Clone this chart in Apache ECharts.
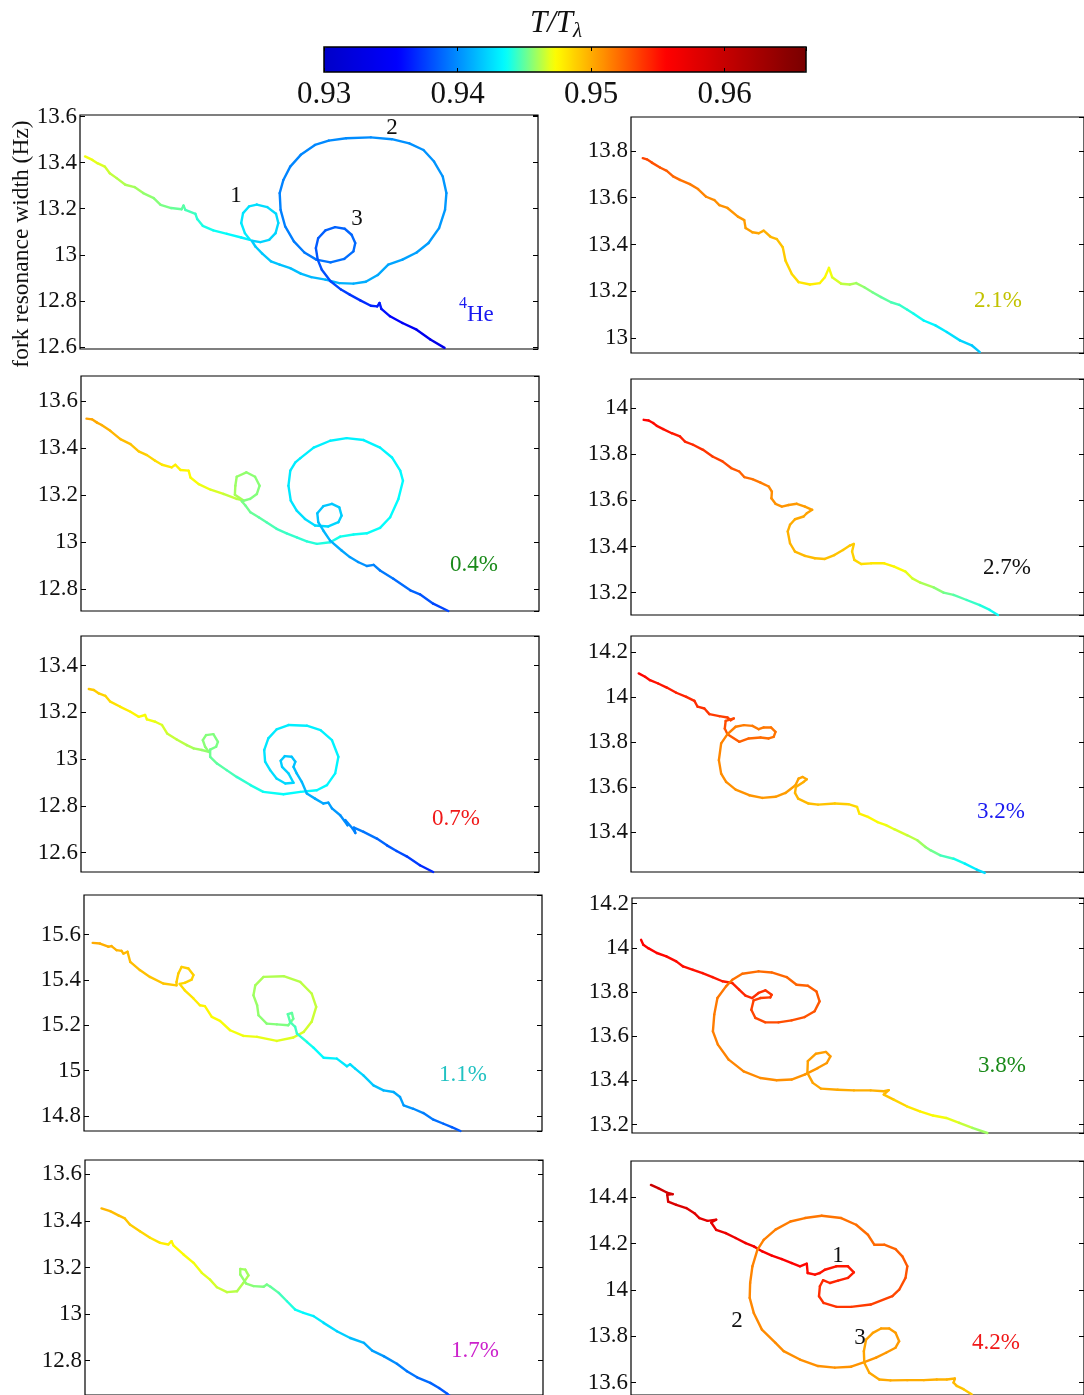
<!DOCTYPE html>
<html>
<head>
<meta charset="utf-8">
<script src="https://cdn.jsdelivr.net/npm/echarts/dist/echarts.min.js"></script>
<style>
  html, body { margin: 0; padding: 0; background: #fff; }
  #chart { width: 1084px; height: 1395px; }
</style>
</head>
<body>
<div id="chart"></div>
<script>
// Fork resonance width trajectories, coloured by reduced temperature T/Tλ.
// Each point: [x (arbitrary sweep coordinate, 0..100), width in Hz, T/Tλ]

const pathHe4 = [
  [1.1,13.427,.9472],[2.7,13.412,.9470],[3.8,13.398,.9469],[5.4,13.383,.9467],[6.5,13.354,.9465],
  [8.0,13.333,.9463],[9.9,13.304,.9461],[11.9,13.294,.9460],[13.8,13.268,.9458],[16.1,13.246,.9456],
  [17.6,13.217,.9455],[19.9,13.203,.9452],[22.2,13.198,.9450],[22.6,13.214,.9449],[23.0,13.195,.9448],
  [25.2,13.178,.9444],[25.6,13.155,.9442],[26.8,13.126,.9440],[29.1,13.106,.9438],[32.1,13.091,.9436],
  [35.2,13.075,.9433],[37.1,13.065,.9431],[36.0,13.094,.9430],[35.2,13.138,.9429],[35.6,13.181,.9428],
  [36.9,13.210,.9427],[38.6,13.218,.9426],[40.9,13.207,.9425],[42.8,13.178,.9424],[43.3,13.138,.9424],
  [42.7,13.094,.9423],[41.3,13.065,.9422],[39.4,13.055,.9422],[37.5,13.061,.9421],[38.3,13.036,.9420],
  [39.8,13.005,.9419],[41.7,12.971,.9418],[43.6,12.957,.9417],[45.9,12.942,.9416],[48.2,12.918,.9415],
  [50.5,12.903,.9414],[53.6,12.892,.9413],[56.6,12.877,.9412],[59.7,12.875,.9411],[62.4,12.883,.9410],
  [65.0,12.912,.9409],[67.3,12.957,.9408],[70.4,12.979,.9407],[73.5,13.010,.9406],[76.1,13.051,.9405],
  [78.4,13.116,.9404],[79.7,13.195,.9404],[80.0,13.268,.9403],[79.2,13.340,.9403],[77.3,13.405,.9402],
  [75.0,13.455,.9402],[71.9,13.484,.9401],[68.1,13.502,.9401],[63.5,13.510,.9400],[58.1,13.506,.9400],
  [54.3,13.496,.9399],[51.3,13.477,.9399],[48.2,13.434,.9398],[45.9,13.383,.9398],[44.4,13.325,.9397],
  [43.6,13.268,.9397],[43.8,13.195,.9396],[44.8,13.123,.9396],[46.7,13.058,.9395],[49.0,13.010,.9394],
  [51.6,12.979,.9393],[54.7,12.967,.9392],[57.7,12.982,.9391],[59.7,13.015,.9390],[60.1,13.051,.9389],
  [59.3,13.087,.9388],[57.8,13.113,.9387],[55.7,13.120,.9387],[53.6,13.106,.9386],[52.0,13.072,.9385],
  [51.5,13.029,.9384],[51.9,12.979,.9383],[52.8,12.935,.9382],[54.7,12.885,.9380],[57.0,12.849,.9377],
  [58.9,12.827,.9374],[61.2,12.802,.9371],[63.5,12.779,.9368],[64.9,12.776,.9366],[65.4,12.791,.9365],
  [65.8,12.765,.9364],[67.7,12.733,.9358],[70.4,12.704,.9350],[73.5,12.675,.9343],[76.5,12.632,.9335],
  [79.6,12.596,.9328]
];

const path04 = [
  [1.2,13.525,.9503],[2.4,13.522,.9502],[3.5,13.508,.9501],[4.5,13.498,.9500],[6.4,13.473,.9498],
  [8.6,13.438,.9496],[10.8,13.417,.9494],[12.6,13.386,.9491],[14.4,13.370,.9488],[16.2,13.346,.9485],
  [17.7,13.329,.9482],[19.8,13.318,.9479],[20.6,13.329,.9478],[21.7,13.307,.9477],[23.5,13.304,.9475],
  [23.9,13.275,.9474],[25.7,13.247,.9472],[28.3,13.223,.9469],[31.1,13.205,.9466],[34.0,13.184,.9463],
  [35.5,13.177,.9461],[33.6,13.202,.9460],[33.7,13.240,.9459],[34.0,13.278,.9458],[36.1,13.297,.9457],
  [38.0,13.278,.9456],[39.0,13.240,.9456],[38.4,13.205,.9455],[36.9,13.184,.9455],[35.1,13.174,.9454],
  [35.9,13.156,.9453],[37.0,13.127,.9452],[38.8,13.106,.9450],[40.5,13.085,.9448],[42.7,13.057,.9446],
  [44.9,13.038,.9444],[47.1,13.021,.9443],[49.3,13.004,.9442],[51.5,12.993,.9441],[54.4,13.000,.9440],
  [56.6,13.024,.9439],[59.5,13.033,.9438],[62.4,13.038,.9437],[65.3,13.061,.9436],[67.5,13.106,.9436],
  [69.3,13.184,.9435],[70.3,13.261,.9435],[69.7,13.304,.9434],[67.9,13.360,.9434],[65.3,13.402,.9433],
  [61.7,13.434,.9433],[58.0,13.442,.9432],[54.4,13.431,.9432],[50.8,13.402,.9431],[47.9,13.357,.9431],
  [46.8,13.339,.9430],[45.7,13.304,.9430],[45.3,13.240,.9429],[45.8,13.177,.9428],[47.1,13.134,.9427],
  [48.9,13.099,.9426],[51.1,13.071,.9425],[54.0,13.067,.9424],[56.2,13.085,.9422],[56.9,13.113,.9421],
  [56.4,13.148,.9420],[54.8,13.163,.9419],[52.9,13.153,.9418],[51.6,13.123,.9417],[51.8,13.085,.9416],
  [52.9,13.050,.9414],[54.4,13.007,.9412],[56.9,12.965,.9409],[58.7,12.937,.9406],[60.5,12.916,.9403],
  [62.4,12.899,.9400],[63.9,12.904,.9398],[65.3,12.880,.9396],[68.2,12.845,.9392],[71.9,12.796,.9388],
  [74.0,12.779,.9385],[76.9,12.739,.9380],[80.2,12.708,.9375]
];

const path07 = [
  [1.7,13.300,.9491],[2.8,13.296,.9490],[3.9,13.281,.9489],[5.3,13.271,.9487],[6.4,13.246,.9485],
  [8.6,13.224,.9481],[10.8,13.203,.9477],[12.6,13.181,.9474],[14.0,13.189,.9473],[14.4,13.170,.9472],
  [16.2,13.160,.9470],[17.7,13.146,.9468],[18.8,13.110,.9466],[20.9,13.084,.9464],[23.1,13.060,.9462],
  [24.6,13.046,.9460],[26.4,13.039,.9458],[27.9,13.031,.9457],[27.1,13.053,.9456],[26.6,13.081,.9456],
  [27.3,13.103,.9455],[28.9,13.107,.9455],[29.9,13.074,.9454],[29.5,13.053,.9454],[28.2,13.041,.9453],
  [28.2,13.010,.9452],[29.7,12.981,.9450],[31.8,12.953,.9448],[34.0,12.924,.9445],[37.0,12.889,.9441],
  [39.8,12.860,.9438],[44.2,12.850,.9436],[47.9,12.860,.9435],[51.5,12.867,.9434],[53.7,12.889,.9434],
  [55.5,12.939,.9433],[56.2,13.010,.9433],[54.8,13.081,.9432],[52.3,13.124,.9432],[49.3,13.143,.9431],
  [45.3,13.146,.9431],[42.7,13.127,.9430],[40.9,13.089,.9429],[40.0,13.039,.9428],[40.2,12.989,.9427],
  [41.3,12.953,.9426],[42.7,12.917,.9425],[44.6,12.896,.9424],[46.4,12.899,.9423],[45.3,12.939,.9422],
  [43.9,12.967,.9421],[43.6,12.993,.9420],[44.5,13.013,.9419],[46.0,13.010,.9418],[46.8,12.989,.9417],
  [46.4,12.967,.9416],[47.1,12.939,.9415],[48.2,12.903,.9414],[49.3,12.853,.9412],[51.1,12.831,.9410],
  [52.9,12.810,.9408],[54.0,12.814,.9407],[54.8,12.789,.9405],[56.6,12.760,.9402],[58.2,12.717,.9400],
  [57.7,12.739,.9399],[59.3,12.703,.9398],[59.9,12.684,.9397],[59.6,12.707,.9396],[61.7,12.689,.9394],
  [64.6,12.660,.9390],[66.8,12.631,.9386],[68.9,12.607,.9382],[71.1,12.584,.9378],[74.0,12.546,.9372],
  [76.9,12.517,.9366]
];

const path11 = [
  [1.9,15.563,.9501],[3.5,15.560,.9500],[5.3,15.546,.9499],[6.0,15.549,.9499],[7.1,15.531,.9498],
  [8.2,15.528,.9497],[8.6,15.516,.9497],[9.5,15.524,.9496],[10.1,15.479,.9495],[12.2,15.443,.9494],
  [14.4,15.413,.9493],[17.3,15.384,.9492],[20.2,15.376,.9491],[20.2,15.391,.9490],[20.6,15.428,.9490],
  [21.3,15.457,.9489],[22.8,15.450,.9489],[23.9,15.421,.9488],[23.5,15.401,.9488],[22.0,15.387,.9487],
  [20.9,15.382,.9486],[22.0,15.354,.9484],[23.9,15.318,.9481],[25.3,15.288,.9478],[26.4,15.284,.9476],
  [27.9,15.237,.9474],[29.7,15.219,.9473],[31.9,15.178,.9472],[34.8,15.153,.9471],[37.8,15.149,.9470],
  [42.1,15.131,.9469],[45.7,15.146,.9468],[48.0,15.171,.9467],[49.7,15.215,.9466],[50.7,15.281,.9465],
  [49.7,15.340,.9464],[47.2,15.391,.9463],[43.6,15.416,.9462],[39.2,15.413,.9461],[37.4,15.376,.9460],
  [37.0,15.332,.9459],[37.8,15.288,.9458],[38.1,15.244,.9457],[39.9,15.207,.9456],[42.1,15.204,.9455],
  [44.6,15.200,.9454],[45.7,15.229,.9452],[45.4,15.254,.9450],[44.5,15.249,.9449],[45.0,15.215,.9448],
  [46.1,15.193,.9446],[46.5,15.163,.9444],[48.7,15.126,.9440],[50.1,15.101,.9437],[52.3,15.057,.9434],
  [55.2,15.053,.9431],[57.4,15.019,.9428],[58.1,15.028,.9427],[59.2,15.009,.9425],[61.0,14.979,.9422],
  [63.2,14.935,.9418],[65.4,14.913,.9414],[67.6,14.906,.9411],[69.0,14.884,.9408],[69.8,14.847,.9405],
  [71.9,14.832,.9401],[74.1,14.813,.9397],[76.3,14.784,.9393],[78.5,14.766,.9389],[80.3,14.751,.9386],
  [82.2,14.734,.9383]
];

const path17 = [
  [3.6,13.454,.9497],[5.5,13.442,.9496],[7.3,13.424,.9494],[8.7,13.411,.9493],[9.8,13.385,.9491],
  [12.0,13.356,.9488],[14.2,13.328,.9484],[16.4,13.306,.9480],[18.2,13.299,.9477],[18.9,13.313,.9476],
  [19.3,13.295,.9475],[21.5,13.256,.9474],[23.7,13.220,.9472],[25.5,13.177,.9470],[27.3,13.148,.9468],
  [28.8,13.115,.9466],[31.0,13.094,.9464],[33.2,13.098,.9462],[34.6,13.134,.9461],[35.7,13.166,.9460],
  [35.0,13.191,.9459],[33.9,13.194,.9459],[33.9,13.170,.9458],[35.2,13.131,.9457],[36.8,13.120,.9456],
  [39.0,13.117,.9454],[39.7,13.127,.9453],[40.5,13.117,.9452],[42.3,13.091,.9448],[44.1,13.055,.9443],
  [45.9,13.019,.9438],[47.7,13.005,.9435],[49.9,12.991,.9432],[52.1,12.962,.9428],[55.0,12.926,.9423],
  [57.9,12.897,.9418],[60.9,12.876,.9412],[62.7,12.843,.9408],[65.2,12.819,.9403],[68.1,12.786,.9398],
  [70.3,12.754,.9394],[72.5,12.728,.9391],[75.4,12.704,.9388],[77.3,12.682,.9385],[79.1,12.657,.9383],
  [80.2,12.640,.9381]
];

const path21 = [
  [2.6,13.769,.9535],[3.5,13.764,.9533],[4.6,13.750,.9531],[6.4,13.729,.9528],[7.9,13.715,.9526],
  [9.3,13.691,.9523],[10.8,13.676,.9520],[13.0,13.658,.9517],[14.8,13.637,.9514],[16.6,13.604,.9512],
  [18.4,13.590,.9510],[19.5,13.568,.9509],[21.3,13.556,.9508],[23.6,13.519,.9507],[25.0,13.504,.9506],
  [25.3,13.470,.9505],[26.8,13.452,.9504],[28.2,13.448,.9502],[29.3,13.459,.9500],[30.8,13.433,.9498],
  [32.2,13.423,.9495],[33.5,13.388,.9492],[34.1,13.331,.9489],[35.5,13.274,.9486],[37.0,13.239,.9483],
  [39.5,13.229,.9480],[41.7,13.235,.9477],[42.8,13.260,.9475],[43.7,13.300,.9473],[44.4,13.260,.9470],
  [46.4,13.232,.9465],[48.3,13.229,.9462],[49.7,13.235,.9460],[51.5,13.217,.9457],[53.3,13.196,.9454],
  [55.2,13.175,.9451],[57.4,13.153,.9448],[59.2,13.142,.9445],[61.0,13.121,.9442],[62.4,13.104,.9440],
  [64.6,13.075,.9436],[67.2,13.054,.9432],[69.7,13.026,.9428],[72.6,12.990,.9424],[75.2,12.969,.9420],
  [77.0,12.940,.9417]
];

const path27 = [
  [2.8,13.949,.9556],[3.9,13.946,.9555],[4.9,13.935,.9554],[5.7,13.923,.9553],[7.1,13.909,.9551],
  [9.0,13.891,.9549],[10.8,13.877,.9547],[11.9,13.855,.9545],[13.7,13.841,.9543],[15.9,13.819,.9540],
  [18.0,13.790,.9537],[20.2,13.769,.9534],[22.1,13.740,.9530],[23.9,13.725,.9526],[25.0,13.701,.9522],
  [26.8,13.692,.9519],[28.6,13.677,.9516],[30.4,13.660,.9513],[31.1,13.638,.9511],[31.0,13.609,.9510],
  [31.9,13.585,.9509],[33.3,13.573,.9508],[34.8,13.580,.9507],[36.6,13.585,.9506],[38.4,13.573,.9505],
  [40.0,13.559,.9504],[38.8,13.544,.9503],[38.1,13.530,.9502],[36.2,13.518,.9501],[35.1,13.494,.9500],
  [34.6,13.465,.9499],[35.1,13.414,.9498],[36.2,13.378,.9497],[38.4,13.359,.9496],[40.6,13.349,.9495],
  [42.8,13.346,.9494],[44.9,13.363,.9493],[46.8,13.385,.9492],[48.3,13.404,.9491],[49.2,13.411,.9490],
  [48.8,13.378,.9489],[49.3,13.342,.9487],[50.8,13.324,.9485],[53.0,13.327,.9482],[55.9,13.327,.9479],
  [58.1,13.313,.9476],[60.6,13.291,.9471],[62.1,13.262,.9467],[63.9,13.243,.9463],[66.8,13.223,.9458],
  [69.0,13.200,.9454],[71.2,13.190,.9450],[74.1,13.168,.9446],[77.0,13.146,.9442],[79.2,13.125,.9439],
  [81.0,13.103,.9436]
];

const path32 = [
  [1.7,14.104,.9556],[3.1,14.089,.9554],[4.2,14.074,.9552],[6.0,14.059,.9550],[7.9,14.041,.9548],
  [10.0,14.018,.9546],[12.2,14.000,.9544],[14.0,13.982,.9542],[14.7,13.956,.9541],[16.2,13.948,.9540],
  [17.3,13.923,.9538],[19.5,13.914,.9536],[21.3,13.908,.9535],[22.0,13.896,.9534],[22.7,13.904,.9533],
  [20.9,13.893,.9532],[20.7,13.859,.9530],[21.3,13.834,.9528],[23.9,13.800,.9525],[26.0,13.815,.9523],
  [28.6,13.819,.9521],[30.4,13.815,.9520],[31.5,13.822,.9519],[31.9,13.844,.9518],[30.9,13.864,.9518],
  [29.3,13.864,.9517],[28.2,13.856,.9517],[26.8,13.871,.9516],[24.9,13.874,.9516],[23.1,13.867,.9515],
  [21.3,13.834,.9514],[19.9,13.793,.9513],[19.4,13.719,.9512],[19.9,13.659,.9511],[21.0,13.622,.9510],
  [23.1,13.588,.9509],[26.1,13.563,.9508],[29.0,13.551,.9507],[31.9,13.556,.9506],[34.1,13.573,.9505],
  [36.3,13.607,.9504],[37.0,13.637,.9503],[37.9,13.644,.9502],[38.8,13.634,.9501],[38.1,13.622,.9500],
  [36.4,13.600,.9499],[36.2,13.573,.9498],[36.9,13.548,.9497],[39.2,13.526,.9496],[41.3,13.521,.9494],
  [45.0,13.526,.9491],[48.0,13.523,.9488],[49.9,13.511,.9485],[50.4,13.481,.9480],[52.3,13.467,.9476],
  [54.4,13.444,.9473],[56.3,13.430,.9471],[58.1,13.412,.9469],[61.0,13.385,.9465],[63.2,13.363,.9461],
  [65.0,13.333,.9457],[66.1,13.319,.9455],[68.3,13.296,.9449],[71.2,13.281,.9442],[73.7,13.259,.9435],
  [76.3,13.233,.9428],[78.1,13.218,.9423]
];

const path38 = [
  [2.0,14.037,.9558],[2.5,14.014,.9557],[3.6,13.999,.9556],[5.5,13.977,.9555],[7.6,13.962,.9554],
  [9.8,13.939,.9553],[11.3,13.916,.9552],[13.5,13.901,.9551],[15.6,13.886,.9550],[17.8,13.868,.9549],
  [20.0,13.849,.9548],[22.2,13.841,.9547],[23.7,13.811,.9545],[25.1,13.784,.9543],[26.6,13.773,.9541],
  [28.0,13.796,.9540],[29.5,13.808,.9539],[30.9,13.788,.9538],[30.6,13.776,.9537],[28.4,13.773,.9536],
  [26.9,13.762,.9535],[26.4,13.720,.9534],[27.3,13.683,.9533],[29.5,13.663,.9532],[32.4,13.663,.9531],
  [35.3,13.672,.9530],[38.2,13.687,.9529],[40.4,13.713,.9528],[41.5,13.758,.9527],[40.8,13.803,.9526],
  [38.9,13.829,.9525],[36.4,13.833,.9524],[34.2,13.868,.9523],[30.9,13.889,.9522],[28.0,13.894,.9521],
  [24.4,13.883,.9520],[22.2,13.856,.9519],[20.8,13.826,.9518],[18.9,13.773,.9517],[18.2,13.698,.9516],
  [17.9,13.622,.9515],[19.0,13.562,.9514],[21.4,13.494,.9513],[24.7,13.441,.9512],[28.4,13.411,.9511],
  [32.0,13.401,.9510],[35.3,13.404,.9509],[38.2,13.426,.9508],[41.1,13.456,.9507],[43.1,13.479,.9506],
  [43.9,13.509,.9506],[42.9,13.529,.9505],[40.7,13.521,.9505],[38.9,13.487,.9504],[38.8,13.434,.9504],
  [40.0,13.389,.9503],[41.8,13.363,.9502],[45.5,13.358,.9501],[49.1,13.355,.9500],[52.8,13.355,.9499],
  [55.7,13.351,.9498],[56.8,13.356,.9497],[55.7,13.336,.9496],[57.9,13.313,.9490],[60.8,13.283,.9484],
  [63.7,13.260,.9478],[66.6,13.241,.9474],[69.5,13.230,.9471],[72.4,13.208,.9467],[75.3,13.185,.9462],
  [78.6,13.162,.9456]
];

const path42 = [
  [4.4,14.453,.9598],[6.0,14.439,.9595],[7.9,14.420,.9592],[9.2,14.413,.9590],[8.0,14.410,.9589],
  [8.2,14.381,.9587],[10.0,14.367,.9585],[12.2,14.353,.9582],[14.0,14.331,.9580],[15.1,14.310,.9578],
  [16.9,14.298,.9577],[18.8,14.303,.9576],[17.7,14.291,.9575],[18.8,14.259,.9573],[20.9,14.245,.9571],
  [23.1,14.224,.9569],[25.3,14.202,.9567],[27.1,14.188,.9565],[29.0,14.166,.9563],[31.1,14.148,.9561],
  [33.3,14.133,.9559],[35.5,14.116,.9557],[37.3,14.102,.9555],[38.8,14.113,.9554],[39.0,14.073,.9553],
  [40.6,14.066,.9552],[41.7,14.073,.9551],[42.8,14.087,.9550],[45.3,14.102,.9549],[47.9,14.102,.9548],
  [49.2,14.076,.9547],[47.9,14.052,.9546],[45.7,14.040,.9545],[43.9,14.030,.9544],[42.4,14.042,.9543],
  [41.7,14.016,.9542],[41.5,13.973,.9541],[42.5,13.944,.9540],[45.4,13.927,.9539],[48.6,13.927,.9538],
  [52.9,13.937,.9536],[57.7,13.973,.9534],[59.2,14.001,.9532],[60.6,14.052,.9530],[61.0,14.102,.9528],
  [59.9,14.145,.9526],[58.4,14.176,.9524],[55.9,14.195,.9523],[53.7,14.195,.9522],[52.3,14.238,.9521],
  [49.7,14.281,.9520],[46.4,14.310,.9519],[42.1,14.320,.9518],[38.4,14.310,.9517],[35.2,14.295,.9516],
  [31.9,14.260,.9515],[29.3,14.216,.9514],[27.9,14.173,.9514],[26.8,14.102,.9513],[26.3,14.030,.9513],
  [26.2,13.966,.9512],[27.1,13.901,.9512],[28.9,13.829,.9511],[31.9,13.772,.9511],[33.7,13.736,.9510],
  [37.3,13.700,.9510],[41.3,13.672,.9509],[45.0,13.665,.9509],[48.6,13.669,.9508],[51.5,13.689,.9508],
  [54.1,13.708,.9507],[56.3,13.729,.9507],[58.4,13.751,.9506],[59.2,13.779,.9506],[58.4,13.815,.9505],
  [57.0,13.834,.9505],[55.2,13.834,.9504],[53.4,13.815,.9504],[51.9,13.786,.9503],[51.4,13.736,.9503],
  [51.5,13.686,.9502],[52.6,13.643,.9502],[54.8,13.614,.9501],[57.3,13.610,.9501],[61.0,13.611,.9500],
  [64.6,13.611,.9500],[67.5,13.614,.9499],[69.7,13.614,.9498],[71.5,13.618,.9498],[71.2,13.600,.9497],
  [71.9,13.586,.9495],[73.4,13.572,.9492],[75.2,13.550,.9489]
];

// panel order: left column top to bottom, then right column top to bottom
const paths = [pathHe4, path04, path07, path11, path17, path21, path27, path32, path38, path42];
const yRanges = [
  [12.591, 13.607], [12.708, 13.706], [12.517, 13.527], [14.734, 15.774], [12.652, 13.662],
  [12.936, 13.945], [13.103, 14.126], [13.222, 14.270], [13.162, 14.226], [13.547, 14.556]
];
const panelLabels = ['4He', '0.4%', '0.7%', '1.1%', '1.7%', '2.1%', '2.7%', '3.2%', '3.8%', '4.2%'];
const colorbarTicks = [0.93, 0.94, 0.95, 0.96];
const T_MIN = 0.93, T_MAX = 0.9661;

// ---- layout ----
const FONT = 'Liberation Serif';
const boxes = [
  { left: 80, top: 115, width: 458, height: 234 },
  { left: 81, top: 376, width: 458, height: 235 },
  { left: 81, top: 636, width: 458, height: 236 },
  { left: 84, top: 895, width: 458, height: 236 },
  { left: 85, top: 1160, width: 458, height: 236 },
  { left: 631, top: 117, width: 458, height: 236 },
  { left: 631, top: 379, width: 458, height: 236 },
  { left: 631, top: 636, width: 458, height: 236 },
  { left: 632, top: 898, width: 458, height: 235 },
  { left: 631, top: 1161, width: 458, height: 235 }
];
const labelStyle = [
  { x: 459, y: 311, color: '#1a1af0' },
  { x: 474, y: 565, color: '#1a8a1a' },
  { x: 456, y: 819, color: '#f01818' },
  { x: 463, y: 1075, color: '#22c2c2' },
  { x: 475, y: 1351, color: '#cc22cc' },
  { x: 998, y: 301, color: '#c2c200' },
  { x: 1007, y: 568, color: '#111111' },
  { x: 1001, y: 812, color: '#1a1af0' },
  { x: 1002, y: 1066, color: '#1a8a1a' },
  { x: 996, y: 1343, color: '#f01818' }
];
const loopTags = [
  { text: '1', x: 236, y: 196 }, { text: '2', x: 392, y: 128 }, { text: '3', x: 357, y: 219 },
  { text: '1', x: 838, y: 1256 }, { text: '2', x: 737, y: 1321 }, { text: '3', x: 860, y: 1338 }
];

// jet-like colour map sampled into an evenly spaced list for the visualMap
const cmapStops = [
  [0.9300, [0, 0, 200]], [0.9356, [0, 0, 255]], [0.9436, [0, 255, 255]],
  [0.9473, [255, 255, 0]], [0.9556, [255, 0, 0]], [0.9661, [120, 0, 0]]
];
function sampleCmap(n) {
  const out = [];
  for (let i = 0; i < n; i++) {
    const v = T_MIN + (T_MAX - T_MIN) * i / (n - 1);
    let k = 0;
    while (k < cmapStops.length - 2 && v > cmapStops[k + 1][0]) k++;
    const v0 = cmapStops[k][0], c0 = cmapStops[k][1];
    const v1 = cmapStops[k + 1][0], c1 = cmapStops[k + 1][1];
    const f = Math.min(1, Math.max(0, (v - v0) / (v1 - v0)));
    const c = c0.map((a, j) => Math.round(a + (c1[j] - a) * f));
    out.push('rgb(' + c.join(',') + ')');
  }
  return out;
}

// consecutive points -> line segments carrying the mean temperature
function toSegments(path) {
  const segs = [];
  for (let i = 0; i < path.length - 1; i++) {
    const a = path[i], b = path[i + 1];
    segs.push([a[0], a[1], b[0], b[1], (a[2] + b[2]) / 2]);
  }
  return segs;
}

function renderSegment(params, api) {
  const p0 = api.coord([api.value(0), api.value(1)]);
  const p1 = api.coord([api.value(2), api.value(3)]);
  return {
    type: 'line',
    shape: { x1: p0[0], y1: p0[1], x2: p1[0], y2: p1[1] },
    style: { stroke: api.visual('color'), lineWidth: 2.4, lineCap: 'round' }
  };
}

function tickText(v) {
  const s = v.toFixed(1);
  return s.endsWith('.0') ? s.slice(0, -2) : s;
}

const grid = [], xAxis = [], yAxis = [], series = [];
boxes.forEach((b, i) => {
  grid.push({ left: b.left, top: b.top, width: b.width, height: b.height,
              show: true, borderColor: '#000', borderWidth: 1.2, backgroundColor: 'transparent' });
  xAxis.push({ gridIndex: i, type: 'value', min: 0, max: 100, show: false });
  const yBase = {
    gridIndex: i, type: 'value', min: yRanges[i][0], max: yRanges[i][1],
    minInterval: 0.2, maxInterval: 0.2, splitNumber: 5,
    axisLine: { show: false }, splitLine: { show: false },
    axisTick: { inside: true, length: 5, lineStyle: { color: '#000', width: 1 } }
  };
  yAxis.push(Object.assign({}, yBase, {
    position: 'left',
    axisLabel: { showMinLabel: false, showMaxLabel: false, margin: 3,
                 fontFamily: FONT, fontSize: 23, color: '#111', formatter: tickText }
  }));
  yAxis.push(Object.assign({}, yBase, { position: 'right', axisLabel: { show: false } }));
  series.push({
    type: 'custom', xAxisIndex: i, yAxisIndex: 2 * i,
    renderItem: renderSegment, encode: { x: [0, 2], y: [1, 3] },
    data: toSegments(paths[i]), silent: true
  });
});

// colour bar axes
const cbGrid = grid.length;
grid.push({ left: 324, top: 47, width: 482, height: 25, show: false });
xAxis.push({
  gridIndex: cbGrid, type: 'value', position: 'bottom', min: T_MIN, max: T_MAX,
  minInterval: 0.01, maxInterval: 0.01, z: 10,
  axisLine: { show: false }, splitLine: { show: false },
  axisTick: { inside: true, length: 4, lineStyle: { color: '#000', width: 1 } },
  axisLabel: { margin: 7, fontFamily: FONT, fontSize: 31, color: '#111', showMaxLabel: false,
               formatter: v => colorbarTicks.some(t => Math.abs(t - v) < 1e-6) ? v.toFixed(2) : '' }
});
xAxis.push({
  gridIndex: cbGrid, type: 'value', position: 'top', min: T_MIN, max: T_MAX,
  minInterval: 0.01, maxInterval: 0.01, z: 10,
  axisLine: { show: false }, splitLine: { show: false },
  axisTick: { inside: true, length: 4, lineStyle: { color: '#000', width: 1 } },
  axisLabel: { show: false }
});
yAxis.push({ gridIndex: cbGrid, type: 'value', min: 0, max: 1, show: false });
series.push({ type: 'scatter', xAxisIndex: xAxis.length - 2, yAxisIndex: yAxis.length - 1, data: [], silent: true });

const graphic = [
  { type: 'text', x: 556, y: 24, z: 50,
    style: { text: '{t|T/T}{s|λ}', align: 'center', verticalAlign: 'middle',
             rich: {
               t: { fontFamily: FONT, fontStyle: 'italic', fontSize: 31, lineHeight: 36, fill: '#111' },
               s: { fontFamily: FONT, fontStyle: 'italic', fontSize: 21, lineHeight: 21, verticalAlign: 'bottom', fill: '#111' }
             } } },
  { type: 'text', x: 22, y: 244, rotation: Math.PI / 2, z: 50,
    style: { text: 'fork resonance width (Hz)', fontFamily: FONT, fontSize: 23.5, fill: '#111',
             align: 'center', verticalAlign: 'middle' } },
  { type: 'rect', z: 100, shape: { x: 324, y: 47, width: 482, height: 25 },
    style: { fill: 'none', stroke: '#000', lineWidth: 1.5 } }
];
panelLabels.forEach((txt, i) => {
  const s = labelStyle[i];
  if (txt === '4He') {
    graphic.push({ type: 'text', x: s.x, y: s.y, z: 50,
      style: { text: '{p|4}{b|He}', align: 'left', verticalAlign: 'middle',
               rich: {
                 p: { fontFamily: FONT, fontSize: 16, lineHeight: 16, verticalAlign: 'top', fill: s.color },
                 b: { fontFamily: FONT, fontSize: 23, lineHeight: 30, verticalAlign: 'bottom', fill: s.color }
               } } });
  } else {
    graphic.push({ type: 'text', x: s.x, y: s.y, z: 50,
      style: { text: txt, fontFamily: FONT, fontSize: 23, fill: s.color, align: 'center', verticalAlign: 'middle' } });
  }
});
loopTags.forEach(t => {
  graphic.push({ type: 'text', x: t.x, y: t.y, z: 50,
    style: { text: t.text, fontFamily: FONT, fontSize: 23, fill: '#111', align: 'center', verticalAlign: 'middle' } });
});

const chart = echarts.init(document.getElementById('chart'), null, { renderer: 'canvas' });
chart.setOption({
  animation: false,
  backgroundColor: '#fff',
  textStyle: { fontFamily: FONT },
  grid, xAxis, yAxis, series, graphic,
  visualMap: {
    type: 'continuous', min: T_MIN, max: T_MAX, dimension: 4,
    seriesIndex: paths.map((_, i) => i),
    orient: 'horizontal', left: 324, top: 47, padding: 0,
    itemWidth: 25, itemHeight: 482, calculable: false, hoverLink: false,
    inRange: { color: sampleCmap(121) }
  }
});
</script>
</body>
</html>
